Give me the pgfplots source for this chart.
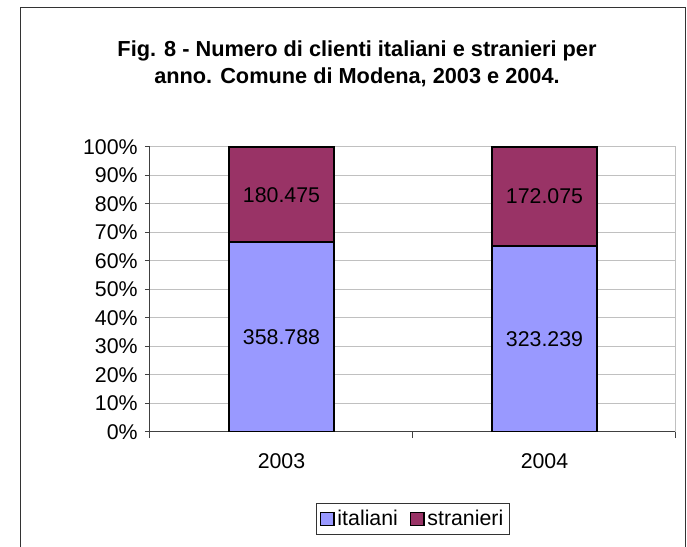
\documentclass[border=0pt]{standalone}
\usepackage{fontspec}
\setmainfont{Liberation Sans}
\usepackage{pgfplots}
\pgfplotsset{compat=1.18}
\usepackage{pgfplotstable}
\definecolor{ital}{HTML}{9999FF}
\definecolor{stran}{HTML}{993366}
\definecolor{gridc}{HTML}{C0C0C0}
\pgfplotstableread{
x ital stran ilab slab
0.5 66.53 33.47 358.788 180.475
1.5 65.26 34.74 323.239 172.075
}\data
\begin{document}
\begin{tikzpicture}
\path[use as bounding box] (0pt,0pt) rectangle (515.25pt,410.25pt);
\draw[black!80, line width=0.75pt] (15pt,-8pt) -- (15pt,404.25pt) -- (513.75pt,404.25pt) -- (513.75pt,-8pt);
\node[font=\bfseries\fontsize{16.3}{20.25}\selectfont, align=center] at (267.75pt,362.5pt) {Fig. 8 - Numero di clienti italiani e stranieri per\\anno. Comune di Modena, 2003 e 2004.};
\begin{axis}[
  at={(112.5pt,86.25pt)}, anchor=south west, scale only axis,
  width=394.5pt, height=213.75pt,
  xmin=0, xmax=2, ymin=0, ymax=100,
  ybar stacked, bar width=0.396,
  axis x line*=bottom, axis y line*=left,
  axis line style={black!75, line width=0.75pt},
  ytick={0,10,...,100},
  yticklabels={0\%,10\%,20\%,30\%,40\%,50\%,60\%,70\%,80\%,90\%,100\%},
  xtick={0.5,1.5}, xticklabels={2003,2004},
  major x tick style={draw=none},
  minor xtick={0,1,2},
  minor x tick style={draw=black!75, line width=0.75pt},
  ytick style={draw=black!75, line width=0.75pt},
  tick align=outside, major tick length=3.75pt, minor tick length=4.5pt,
  ymajorgrids, grid style={gridc, line width=0.75pt},
  tick label style={font=\fontsize{16}{19}\selectfont},
  yticklabel style={xshift=-2pt},
  xticklabel style={yshift=-9pt},
  legend style={at={(0.5,-0.305)}, anchor=center, draw=black!80, line width=0.75pt,
    legend columns=2, font=\fontsize{16}{19}\selectfont, inner sep=3pt,
    /tikz/every even column/.append style={column sep=7pt}},
  after end axis/.code={
    \draw[gridc, line width=0.75pt] (rel axis cs:1,0) -- (rel axis cs:1,1);
    \node[font=\fontsize{16}{19}\selectfont] at (axis cs:0.5,33.27) {358.788};
    \node[font=\fontsize{16}{19}\selectfont] at (axis cs:0.5,83.27) {180.475};
    \node[font=\fontsize{16}{19}\selectfont] at (axis cs:1.5,32.63) {323.239};
    \node[font=\fontsize{16}{19}\selectfont] at (axis cs:1.5,82.63) {172.075};
  },
]
\addplot[fill=ital, draw=black, line width=1.4pt,
  legend image code/.code={\draw[fill=ital, draw=black, line width=1.1pt] (0pt,-5pt) rectangle (10pt,5pt);}]
  table[x=x, y=ital] {\data};
\addplot[fill=stran, draw=black, line width=1.4pt,
  legend image code/.code={\draw[fill=stran, draw=black, line width=1.1pt] (0pt,-5pt) rectangle (10pt,5pt);}]
  table[x=x, y=stran] {\data};
\legend{italiani,stranieri}
\end{axis}
\end{tikzpicture}
\end{document}
